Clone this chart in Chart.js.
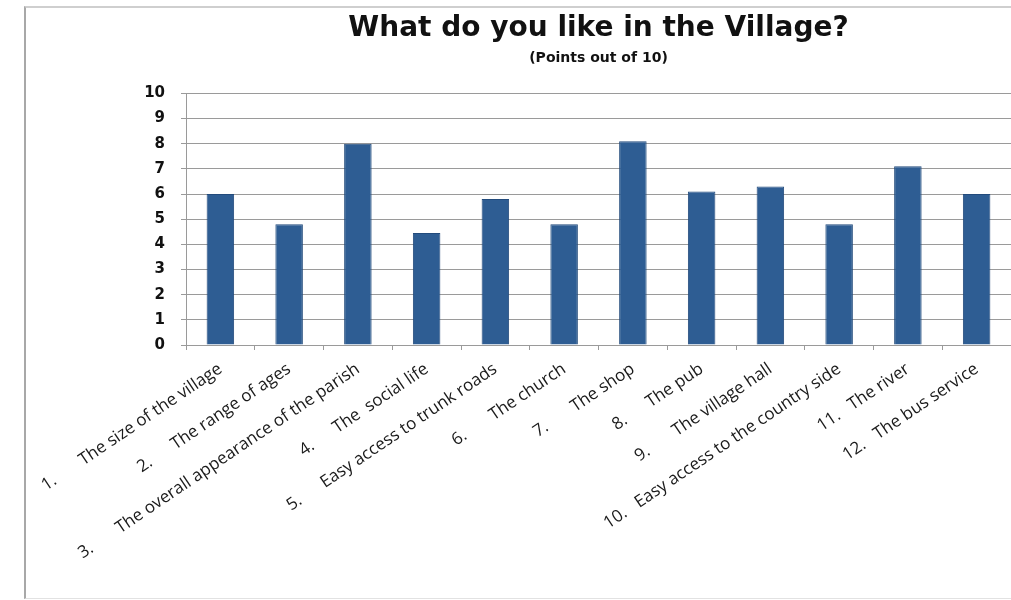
<!DOCTYPE html>
<html lang="en">
  <head>
    <meta charset="UTF-8" />
    <title>What do you like in the Village?</title>
  </head>
  <style>
    * {
      margin: 0;
      padding: 0;
    }
    body {
      width: 1011px;
      height: 600px;
      background: white;
      overflow: hidden;
      position: relative;
    }
    .frame {
      position: absolute;
      left: 24px;
      top: 6px;
      width: 1000px;
      height: 590px;
      border-top: 2px solid #cfcfcf;
      border-left: 2px solid #a8a8a8;
      border-bottom: 1px solid #e2e2e2;
    }
    .chartBox {
      position: absolute;
      left: 0;
      top: 0;
      width: 1011px;
      height: 600px;
    }
  </style>
  <body>
    <div class="frame"></div>
    <div class="chartBox">
      <canvas id="myChart" width="1011" height="600"></canvas>
    </div>

    <script src="https://cdn.jsdelivr.net/npm/chart.js"></script>

    <script>
      // data block
      const categories = [
        "1.       The size of the village",
        "2.      The range of ages",
        "3.       The overall appearance of the parish",
        "4.      The  social life",
        "5.      Easy access to trunk roads",
        "6.       The church",
        "7.       The shop",
        "8.      The pub",
        "9.       The village hall",
        "10.   Easy access to the country side",
        "11.   The river",
        "12.   The bus service"
      ];
      const points = [6.0, 4.8, 8.0, 4.45, 5.8, 4.8, 8.1, 6.1, 6.3, 4.8, 7.1, 6.0];
      const yTicks = [0, 1, 2, 3, 4, 5, 6, 7, 8, 9, 10];

      const gridGrey = "#9a9a9a";

      // config block
      const config = {
        type: "bar",
        data: {
          labels: categories,
          datasets: [
            {
              label: "Points",
              data: points,
              backgroundColor: "#2e5d93",
              borderColor: "#234b7c",
              borderWidth: 1,
              barPercentage: 0.4,
              categoryPercentage: 1
            }
          ]
        },
        options: {
          responsive: false,
          animation: false,
          layout: { padding: 0 },
          plugins: {
            legend: { display: false },
            tooltip: { enabled: false },
            title: {
              display: true,
              text: "What do you like in the Village?",
              fullSize: false,
              color: "#111",
              font: { family: "DejaVu Sans", size: 28, weight: "bold" },
              padding: { top: 12, bottom: 0 }
            },
            subtitle: {
              display: true,
              text: "(Points out of 10)",
              fullSize: false,
              color: "#111",
              font: { family: "DejaVu Sans", size: 14, weight: "bold" },
              padding: { top: 4, bottom: 27 }
            }
          },
          scales: {
            x: {
              afterFit: (scale) => {
                scale.height = 255;
              },
              grid: {
                display: true,
                drawOnChartArea: false,
                drawTicks: true,
                tickLength: 5,
                color: gridGrey
              },
              border: { color: gridGrey },
              ticks: {
                autoSkip: false,
                maxRotation: 34,
                minRotation: 34,
                padding: 9,
                color: "#1a1a1a",
                font: { family: "Open Sans", size: 17 }
              }
            },
            y: {
              min: 0,
              max: 10,
              afterFit: (scale) => {
                scale.width = 186;
              },
              afterBuildTicks: (scale) => {
                scale.ticks = yTicks.map((v) => ({ value: v }));
              },
              grid: { color: gridGrey, tickLength: 5 },
              border: { color: gridGrey },
              ticks: {
                padding: 16,
                color: "#111",
                font: { family: "DejaVu Sans", size: 15, weight: "bold" }
              }
            }
          }
        }
      };

      // init render block
      const myChart = new Chart(document.getElementById("myChart"), config);
    </script>
  </body>
</html>
